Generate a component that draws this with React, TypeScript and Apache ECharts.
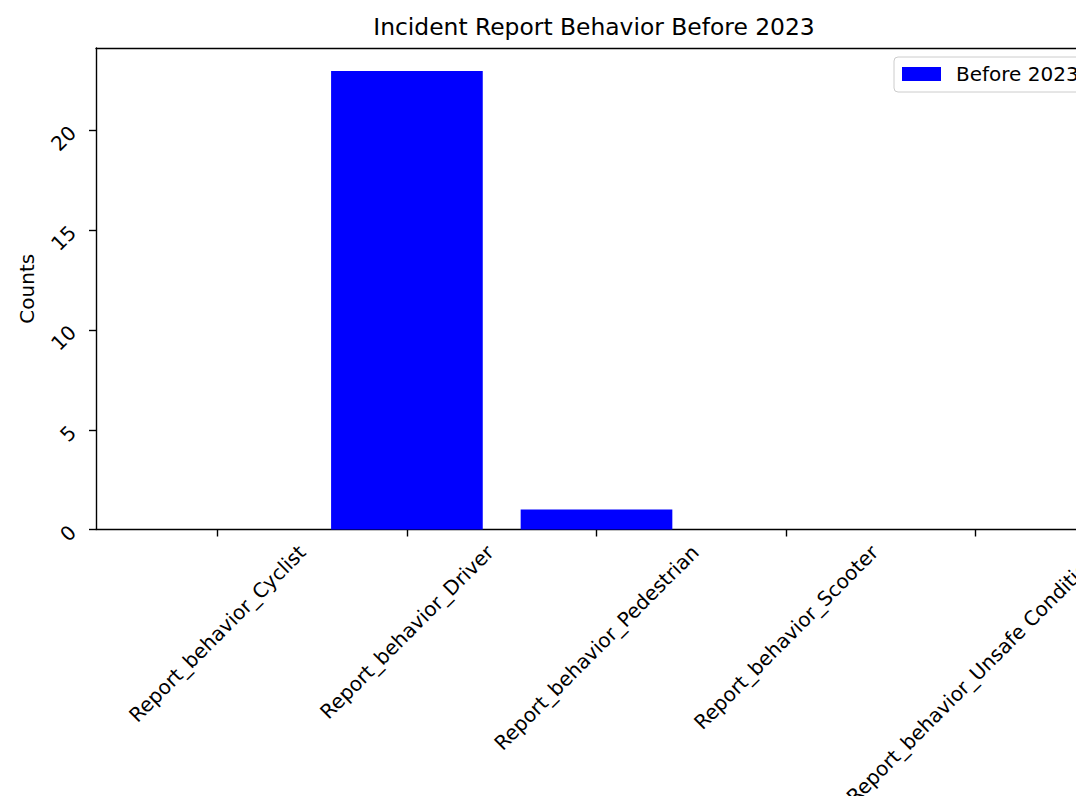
import React, { useEffect, useRef } from "react";
import * as echarts from "echarts";

const TITLE = "Incident Report Behavior Before 2023";
const categories = [
  "Report_behavior_Cyclist",
  "Report_behavior_Driver",
  "Report_behavior_Pedestrian",
  "Report_behavior_Scooter",
  "Report_behavior_Unsafe Conditions",
];
const seriesName = "Before 2023";
const before2023 = [0, 23, 1, 0, 0];
const yTicks = [0, 5, 10, 15, 20];
const yAxisName = "Counts";

const FONT = "DejaVu Sans";
const TICK_FS = 20;
const TITLE_FS = 23.4;
const BOX_H = 23.4;
const S2 = Math.SQRT2;

function measure(text: string, fs: number): number {
  const ctx = document.createElement("canvas").getContext("2d");
  if (!ctx) return text.length * fs * 0.6;
  ctx.font = `${fs}px "${FONT}"`;
  return ctx.measureText(text).width;
}

export default function App() {
  const ref = useRef<HTMLDivElement>(null);

  useEffect(() => {
    if (!ref.current) return;
    const chart = echarts.init(ref.current, undefined, { renderer: "svg" });

    const catIdx = categories.map((_, i) => i);
    const xRich: Record<string, any> = {};
    categories.forEach((c, i) => {
      const w = measure(c, TICK_FS);
      const h = BOX_H;
      xRich["c" + i] = {
        fontSize: TICK_FS,
        fontFamily: FONT,
        color: "#000",
        height: h,
        padding: [(w - h) / 4, (w + h) / 2, 0, 0],
      };
    });

    const yRich: Record<string, any> = {};
    yTicks.forEach((t) => {
      const w = measure(String(t), TICK_FS);
      const h = BOX_H;
      const dx = -(w + h) / (2 * S2);
      const dy = 0.3 * w;
      const a = (dx - dy) / S2;
      const b = (dx + dy) / S2;
      const pl = a > 0 ? 2 * a : 0;
      const pr = a < 0 ? -2 * a : 0;
      const pt = b > 0 ? 2 * b : 0;
      const pb = b < 0 ? -2 * b : 0;
      yRich["y" + t] = {
        fontSize: TICK_FS,
        fontFamily: FONT,
        color: "#000",
        height: h,
        padding: [pt, pr, pb, pl],
      };
    });

    const lineStyle = { color: "#000", width: 1.4 };
    const xMin = -0.64;
    const xMax = categories.length - 1 + 0.64;
    const yMax = Math.max(...before2023) * 1.05;

    chart.setOption({
      animation: false,
      backgroundColor: "#ffffff",
      title: {
        text: TITLE,
        left: 594,
        top: 15,
        textAlign: "center",
        padding: 0,
        textStyle: {
          fontSize: TITLE_FS,
          fontWeight: "normal",
          fontFamily: FONT,
          color: "#000",
        },
      },
      legend: {
        show: true,
        data: [seriesName],
        left: 894,
        top: 57,
        orient: "vertical",
        padding: [7, 20, 8, 8],
        itemWidth: 39,
        itemHeight: 14,
        icon: "rect",
        backgroundColor: "rgba(255,255,255,0.8)",
        borderColor: "#cccccc",
        borderWidth: 1,
        borderRadius: 4,
        textStyle: {
          fontSize: TICK_FS,
          fontFamily: FONT,
          color: "#000",
          padding: [0, 0, 0, 10],
        },
      },
      grid: {
        left: 96,
        top: 48,
        right: 13,
        bottom: 266.5,
        containLabel: false,
        outerBoundsMode: "none",
      },
      xAxis: [
        {
          type: "value",
          min: xMin,
          max: xMax,
          position: "bottom",
          axisLine: { show: true, onZero: false, lineStyle },
          axisTick: { show: true, customValues: catIdx, length: 7, lineStyle },
          axisLabel: {
            show: true,
            customValues: catIdx,
            rotate: 45,
            align: "center",
            verticalAlign: "top",
            margin: 11,
            showMinLabel: true,
            showMaxLabel: true,
            hideOverlap: false,
            fontSize: TICK_FS,
            fontFamily: FONT,
            color: "#000",
            formatter: (v: number) => {
              const i = Math.round(v);
              return `{c${i}|${categories[i]}}`;
            },
            rich: xRich,
          },
          splitLine: { show: false },
        },
        {
          type: "value",
          min: xMin,
          max: xMax,
          position: "top",
          axisLine: { show: true, onZero: false, lineStyle },
          axisTick: { show: false },
          axisLabel: { show: false },
          splitLine: { show: false },
        },
      ],
      yAxis: [
        {
          type: "value",
          min: 0,
          max: yMax,
          position: "left",
          name: yAxisName,
          nameLocation: "middle",
          nameRotate: 90,
          nameGap: 54,
          nameTextStyle: { fontSize: TICK_FS, fontFamily: FONT, color: "#000" },
          axisLine: { show: true, onZero: false, lineStyle },
          axisTick: { show: true, customValues: yTicks, length: 7, lineStyle },
          axisLabel: {
            show: true,
            customValues: yTicks,
            rotate: 45,
            align: "center",
            verticalAlign: "middle",
            margin: 15.25,
            showMinLabel: true,
            showMaxLabel: true,
            fontSize: TICK_FS,
            fontFamily: FONT,
            color: "#000",
            formatter: (v: number) => `{y${Math.round(v)}|${Math.round(v)}}`,
            rich: yRich,
          },
          splitLine: { show: false },
        },
      ],
      series: [
        {
          type: "bar",
          name: seriesName,
          xAxisIndex: 0,
          yAxisIndex: 0,
          data: before2023.map((v, i) => [i, v]),
          barWidth: "80%",
          itemStyle: { color: "#0000ff" },
        },
      ],
    });

    return () => {
      chart.dispose();
    };
  }, []);

  return (
    <div
      style={{
        position: "fixed",
        left: 0,
        top: 0,
        width: 1076,
        height: 796,
        overflow: "hidden",
        background: "#fff",
      }}
    >
      <div ref={ref} style={{ width: 1110, height: 796 }} />
    </div>
  );
}
